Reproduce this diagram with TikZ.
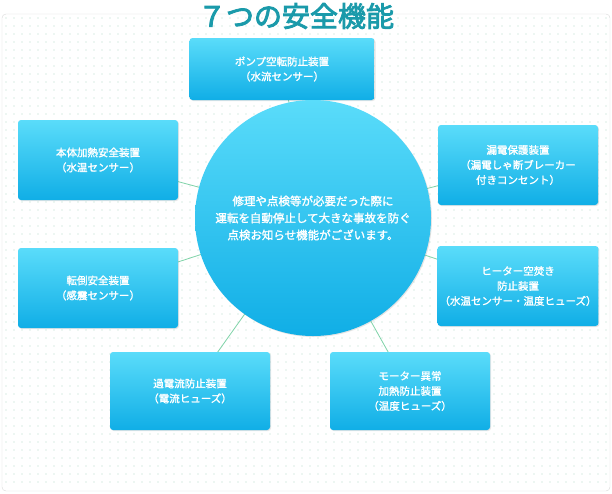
\documentclass[tikz,border=0pt]{standalone}
\usepackage{fontspec}
\newfontfamily\jp[FakeBold=1.6]{Noto Sans CJK JP}
\newfontfamily\jptitle[FakeBold=3]{Noto Sans CJK JP}
\usetikzlibrary{shadows,backgrounds}
\definecolor{titleteal}{HTML}{1A9AAA}
\definecolor{boxtop}{HTML}{5ADCFA}
\definecolor{boxbot}{HTML}{10AEE6}
\definecolor{linkgreen}{HTML}{7FD3A8}
\definecolor{dotgreen}{HTML}{B5DCC8}
\tikzset{
  featurebox/.style={rounded corners=3pt,top color=boxtop,bottom color=boxbot,
    minimum width=160pt,minimum height=80pt,inner xsep=2pt,align=center,text=white,
    font=\jp\fontsize{10.5}{15}\selectfont,
    drop shadow={opacity=0.2,shadow xshift=1pt,shadow yshift=-1pt}},
  link/.style={linkgreen,line width=0.8pt}
}
\begin{document}
\begin{tikzpicture}[x=1pt,y=-1pt]
\useasboundingbox (0,0) rectangle (612,493);

% boxes
\coordinate (hub) at (313,218);
\node[featurebox,minimum width=185pt,minimum height=62pt] (pump) at (282,69) {ポンプ空転防止装置\\（水流センサー）};
\node[featurebox] (body) at (98,160) {本体加熱安全装置\\（水温センサー）};
\node[featurebox] (leak) at (518,165) {漏電保護装置\\（漏電しゃ断ブレーカー\\付きコンセント）};
\node[featurebox] (tip) at (98,288) {転倒安全装置\\（感震センサー）};
\node[featurebox] (heater) at (518,286) {ヒーター空焚き\\防止装置\\（水温センサー・温度ヒューズ）};
\node[featurebox,minimum height=78pt] (current) at (190,391) {過電流防止装置\\（電流ヒューズ）};
\node[featurebox,minimum height=78pt] (motor) at (410,391) {モーター異常\\加熱防止装置\\（温度ヒューズ）};

% background and links
\begin{scope}[on background layer]
\draw[gray!30,fill=white,rounded corners=4pt] (2,14) rectangle (610,491);
\foreach \i in {0,...,75}
  \foreach \j in {0,...,58}
    \fill[dotgreen] (6+8*\i,18+8*\j) circle (0.6);
\foreach \b in {pump,body,leak,tip,heater,current,motor}
  \draw[link] (hub) -- (\b.center);
\end{scope}

% centre circle
\node[circle,minimum size=236pt,top color=boxtop,bottom color=boxbot,
  drop shadow={opacity=0.2,shadow xshift=1pt,shadow yshift=-1pt},
  align=center,text=white,font=\jp\fontsize{11.5}{17}\selectfont] (core) at (hub)
  {修理や点検等が必要だった際に\\運転を自動停止して大きな事故を防ぐ\\点検お知らせ機能がございます。};

% title
\node[text=titleteal,font=\jptitle\fontsize{28}{30}\selectfont] (title) at (296,16) {７つの安全機能};
\end{tikzpicture}
\end{document}
